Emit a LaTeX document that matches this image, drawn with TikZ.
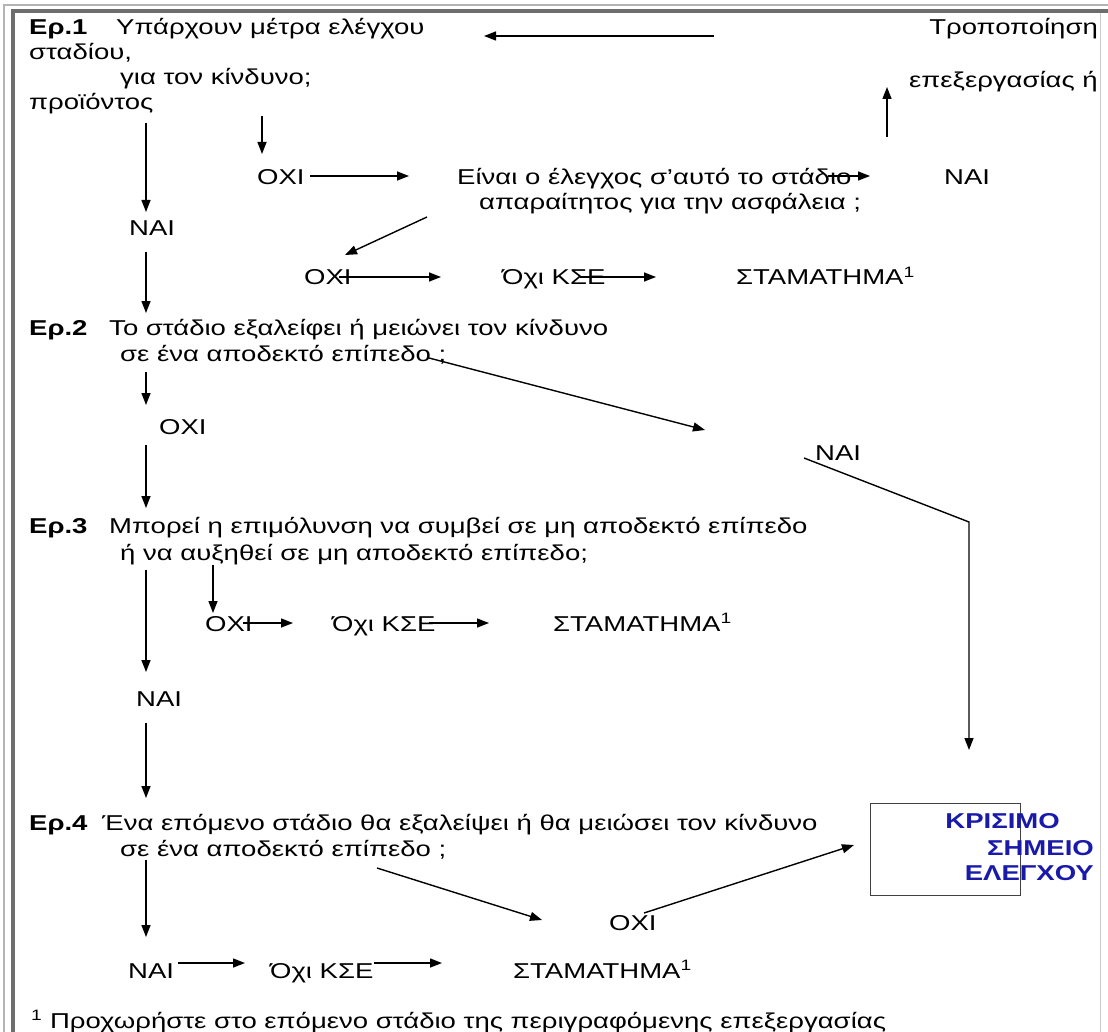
\documentclass[tikz,border=0pt]{standalone}
\usepackage{fontspec}
\setmainfont{Liberation Sans}[FakeStretch=1.28]
\usetikzlibrary{arrows.meta}
\definecolor{boxblue}{RGB}{25,25,170}
\definecolor{framedark}{RGB}{110,110,110}
\definecolor{framelight}{RGB}{180,180,180}
\begin{document}
\begin{tikzpicture}[x=1pt,y=-1pt,
  txt/.style={inner sep=0pt, anchor=base west, font=\fontsize{21.5}{25}\selectfont},
  txtr/.style={txt, anchor=base east},
  lbl/.style={txt, font=\fontsize{21.5}{25}\selectfont\bfseries},
  crit/.style={txt, anchor=base east, font=\fontsize{21.5}{25}\selectfont\bfseries, text=boxblue},
  arr/.style={line width=1.4pt, -{Triangle[length=12pt,width=9pt]}},
  critbox/.style={draw=black!75, line width=1.4pt}]
\fill[white] (0,0) rectangle (1108,1032);
\useasboundingbox (0,0) rectangle (1108,1032);
% frame
\draw[framelight, line width=1.5pt] (4,1032) -- (4,5) -- (1108,5);
\draw[framedark, line width=3.5pt] (13,1032) -- (13,11) -- (1108,11);
\draw[black!20, line width=1pt] (1100,13) -- (1100,1032);

% Question 1
\node[lbl] (q1) at (29,35) {Ερ.1};
\node[txt] (q1a) at (116,35) {Υπάρχουν μέτρα ελέγχου};
\node[txt] (q1b) at (29,60) {σταδίου,};
\node[txt] (q1c) at (120,85) {για τον κίνδυνο;};
\node[txt] (q1d) at (29,110) {προϊόντος};
\node[txtr] (mod1) at (1098,35) {Τροποποίηση};
\node[txtr] (mod2) at (1098,88) {επεξεργασίας ή};
\node[txt] (no1) at (257,185) {ΟΧΙ};
\node[txt] (nec1) at (457,185) {Είναι ο έλεγχος σ’αυτό το στάδιο};
\node[txt] (nec2) at (479,210) {απαραίτητος για την ασφάλεια ;};
\node[txt] (yes2) at (944,185) {ΝΑΙ};
\node[txt] (yes1) at (129,236) {ΝΑΙ};
\node[txt] (no2) at (304,285) {ΟΧΙ};
\node[txt] (nc1) at (502,285) {Όχι ΚΣΕ};
\node[txt] (stop1) at (736,285) {ΣΤΑΜΑΤΗΜΑ\textsuperscript{1}};

% Question 2
\node[lbl] (q2) at (29,335) {Ερ.2};
\node[txt] (q2a) at (109,335) {Το στάδιο εξαλείφει ή μειώνει τον κίνδυνο};
\node[txt] (q2b) at (120,361) {σε ένα αποδεκτό επίπεδο ;};
\node[txt] (no3) at (159,434) {ΟΧΙ};
\node[txt] (yes3) at (815,460) {ΝΑΙ};

% Question 3
\node[lbl] (q3) at (29,533) {Ερ.3};
\node[txt] (q3a) at (109,533) {Μπορεί η επιμόλυνση να συμβεί σε μη αποδεκτό επίπεδο};
\node[txt] (q3b) at (120,560) {ή να αυξηθεί σε μη αποδεκτό επίπεδο;};
\node[txt] (no4) at (205,631) {ΟΧΙ};
\node[txt] (nc2) at (332,631) {Όχι ΚΣΕ};
\node[txt] (stop2) at (553,631) {ΣΤΑΜΑΤΗΜΑ\textsuperscript{1}};
\node[txt] (yes4) at (136,706) {ΝΑΙ};

% Question 4
\node[lbl] (q4) at (29,830) {Ερ.4};
\node[txt] (q4a) at (102,830) {Ένα επόμενο στάδιο θα εξαλείψει ή θα μειώσει τον κίνδυνο};
\node[txt] (q4b) at (120,856) {σε ένα αποδεκτό επίπεδο ;};
\node[txt] (no5) at (609,930) {ΟΧΙ};
\node[txt] (yes5) at (128,978) {ΝΑΙ};
\node[txt] (nc3) at (270,978) {Όχι ΚΣΕ};
\node[txt] (stop3) at (513,978) {ΣΤΑΜΑΤΗΜΑ\textsuperscript{1}};

% Critical control point box
\node[critbox, minimum width=150pt, minimum height=92pt, inner sep=0pt, anchor=north west] (ccp) at (870,803) {};
\node[crit] (ccp1) at (1060,828) {ΚΡΙΣΙΜΟ};
\node[crit] (ccp2) at (1094,855) {ΣΗΜΕΙΟ};
\node[crit] (ccp3) at (1094,880) {ΕΛΕΓΧΟΥ};

% footnote
\node[txt] (fn) at (31,1028) {\textsuperscript{1} Προχωρήστε στο επόμενο στάδιο της περιγραφόμενης επεξεργασίας};

% connector end points
\coordinate (a1s) at (714,36);  \coordinate (a1e) at (484,36);
\coordinate (a2s) at (887,137); \coordinate (a2e) at (887,87);
\coordinate (a3s) at (262,116); \coordinate (a3e) at (262,154);
\coordinate (a4s) at (146,123); \coordinate (a4e) at (146,212);
\coordinate (a5s) at (310,176); \coordinate (a5e) at (409,176);
\coordinate (a6s) at (828,176); \coordinate (a6e) at (870,176);
\coordinate (a7s) at (427,217); \coordinate (a7e) at (345,255);
\coordinate (a8s) at (339,277); \coordinate (a8e) at (441,277);
\coordinate (a9s) at (580,277); \coordinate (a9e) at (656,277);
\coordinate (a10s) at (146,252); \coordinate (a10e) at (146,313);
\coordinate (a11s) at (429,358); \coordinate (a11e) at (705,430);
\coordinate (a12s) at (146,372); \coordinate (a12e) at (146,405);
\coordinate (a13s) at (146,445); \coordinate (a13e) at (146,508);
\coordinate (a14s) at (804,458); \coordinate (a14m) at (969,522); \coordinate (a14e) at (969,750);
\coordinate (a15s) at (213,565); \coordinate (a15e) at (213,613);
\coordinate (a16s) at (146,570); \coordinate (a16e) at (146,672);
\coordinate (a17s) at (243,623); \coordinate (a17e) at (293,623);
\coordinate (a18s) at (429,623); \coordinate (a18e) at (489,623);
\coordinate (a19s) at (146,723); \coordinate (a19e) at (146,798);
\coordinate (a20s) at (146,860); \coordinate (a20e) at (146,937);
\coordinate (a21s) at (377,868); \coordinate (a21e) at (542,920);
\coordinate (a22s) at (644,913); \coordinate (a22e) at (854,845);
\coordinate (a23s) at (178,963); \coordinate (a23e) at (245,963);
\coordinate (a24s) at (374,963); \coordinate (a24e) at (442,963);

\draw[arr] (a1s) -- (a1e);
\draw[arr] (a2s) -- (a2e);
\draw[arr] (a3s) -- (a3e);
\draw[arr] (a4s) -- (a4e);
\draw[arr] (a5s) -- (a5e);
\draw[arr] (a6s) -- (a6e);
\draw[arr] (a7s) -- (a7e);
\draw[arr] (a8s) -- (a8e);
\draw[arr] (a9s) -- (a9e);
\draw[arr] (a10s) -- (a10e);
\draw[arr] (a11s) -- (a11e);
\draw[arr] (a12s) -- (a12e);
\draw[arr] (a13s) -- (a13e);
\draw[arr] (a14s) -- (a14m) -- (a14e);
\draw[arr] (a15s) -- (a15e);
\draw[arr] (a16s) -- (a16e);
\draw[arr] (a17s) -- (a17e);
\draw[arr] (a18s) -- (a18e);
\draw[arr] (a19s) -- (a19e);
\draw[arr] (a20s) -- (a20e);
\draw[arr] (a21s) -- (a21e);
\draw[arr] (a22s) -- (a22e);
\draw[arr] (a23s) -- (a23e);
\draw[arr] (a24s) -- (a24e);
\end{tikzpicture}
\end{document}
